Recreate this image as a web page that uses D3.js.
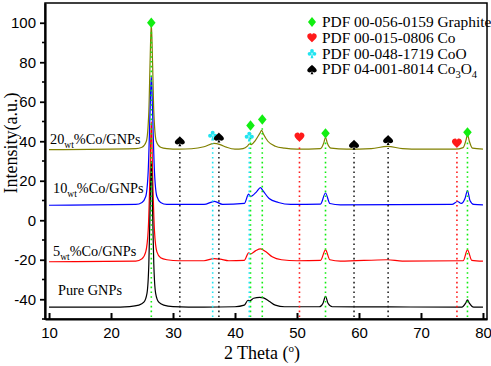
<!DOCTYPE html>
<meta charset="utf-8">
<style>
  body { margin: 0; background: #fff; }
  svg { display: block; font-family: 'Liberation Serif', 'Times New Roman', serif; }
  .tick text { font-size: 15px; }
  .curve { fill: none; stroke-width: 1.2; }
  .ref { stroke-width: 1.6; stroke-dasharray: 1.6 3.2; }
  .lbl { font-size: 14.3px; }
  .leg { font-size: 15.4px; }
</style>
<body>
</body>
<script src="https://cdn.jsdelivr.net/npm/d3@7"></script>
<script>
  const W = 491, H = 366;
  const pl = 45, pr = 487, pt = 3, pb = 319;

  // diffraction patterns, [2theta, intensity]
  const pureGNPs = [[10,-44],[20,-44],[23,-43.7],[24.5,-43],[25.3,-41.5],[25.8,-37],[26.1,-22],[26.3,5],
    [26.5,30],[26.7,5],[26.9,-22],[27.2,-37],[27.7,-41.5],[28.5,-43],[30,-43.7],[35,-44],[40,-43.8],
    [41.5,-43],[42.1,-40.5],[42.4,-40.8],[43,-39.5],[44,-39],[44.6,-39.3],[45.5,-41],[46.5,-43],[48,-43.8],
    [53.6,-43.8],[54.2,-42],[54.6,-38.5],[55,-42],[55.7,-43.8],[65,-43.9],[76.6,-44],[77.2,-42],
    [77.5,-40.3],[77.8,-42],[78.5,-44],[80,-44]];
  const co5 = [[10,-21],[24,-20.7],[25,-19.5],[25.6,-16],[26,-5],[26.3,25],[26.5,50],[26.7,25],[27,-5],
    [27.4,-16],[28,-19],[29,-20],[31,-20.5],[35,-20.5],[36.6,-19.4],[37.6,-19.7],[39,-20.5],[41.5,-20.3],
    [42.2,-16.5],[42.5,-17],[43.3,-15.5],[44.1,-14.5],[45,-16],[46,-18.5],[47.5,-20],[50,-20.5],
    [53.8,-20.3],[54.6,-15],[55.3,-20],[57,-20.7],[64.6,-20],[67,-20.7],[76.8,-20.5],[77.5,-15],
    [78.2,-20.3],[80,-20.7]];
  const co10 = [[10,7.6],[24,8],[25,9],[25.6,12],[26,25],[26.3,55],[26.5,73],[26.7,55],[27,25],[27.4,12],
    [28,9],[29,8],[35,8],[36.7,9.6],[38,8],[41.5,8.5],[42.2,13.2],[42.5,12],[43.5,14.5],[44.1,16.5],
    [44.5,15],[45.5,11],[47,9],[49,8],[53.8,8.2],[54.6,13.8],[55.3,8.5],[57,7.8],[75,8],[75.9,9.5],
    [76.5,8.5],[77.1,11],[77.5,15],[77.9,10],[78.5,8],[80,7.8]];
  const co20 = [[10,35.8],[24,36.3],[25,37],[25.7,40],[26.1,55],[26.3,80],[26.5,100],[26.7,80],[26.9,55],
    [27.3,40],[28,37],[29,36.3],[31,36],[33,36.2],[35,37.2],[36.6,38.9],[37.6,38.3],[38.6,37],[40,36],
    [41.3,36.3],[42,37.5],[42.3,38.6],[42.6,38.3],[43.3,40.5],[44,44],[44.3,45.5],[44.6,43.5],[45.3,40],
    [46.5,37.5],[48,36.5],[50,36],[53.8,36.3],[54.3,39],[54.6,42],[54.9,39],[55.5,36.5],[58,36],
    [62,36.3],[64.6,37.4],[67,36.3],[70,36],[75.5,36],[76.8,36.8],[77.3,41],[77.5,43.5],[77.8,40],
    [78.3,36.5],[80,36]];

  // reference peak positions with marker heights
  const graphitePeaks = [[26.5,100],[42.5,48],[44.4,51],[54.6,44],[77.5,44.5]];
  const coPeaks = [[50.4,42],[75.8,39]];
  const cooPeaks = [[36.4,42.9],[42.3,42.4]];
  const co3o4Peaks = [[31.1,40],[37.4,41.9],[59.2,38.2],[64.7,40.6]];

  const xTicks = [10, 20, 30, 40, 50, 60, 70, 80];
  const yTicks = [-40, -20, 0, 20, 40, 60, 80, 100];
  const yMinor = [-50, -30, -10, 10, 30, 50, 70, 90];

  const x = d3.scaleLinear().domain([9.35, 80.65]).range([pl, pr]);
  const y = d3.scaleLinear().domain([-50, 110]).range([pb, pt]);

  const svg = d3.select('body').append('svg').attr('width', W).attr('height', H);

  // custom marker shapes, drawn in a box of about 2r
  const shapes = {
    diamond: {draw(c, s) { const r = Math.sqrt(s);
      c.moveTo(0, -r * 0.55); c.lineTo(r * 0.45, 0); c.lineTo(0, r * 0.55); c.lineTo(-r * 0.45, 0); c.closePath(); }},
    heart: {draw(c, s) { const r = Math.sqrt(s) * 0.5;
      c.moveTo(0, r * 0.95);
      c.bezierCurveTo(-r * 0.3, r * 0.6, -r, r * 0.1, -r, -r * 0.35);
      c.bezierCurveTo(-r, -r * 0.8, -r * 0.55, -r, -r * 0.3, -r * 0.95);
      c.bezierCurveTo(-r * 0.1, -r * 0.9, 0, -r * 0.75, 0, -r * 0.6);
      c.bezierCurveTo(0, -r * 0.75, r * 0.1, -r * 0.9, r * 0.3, -r * 0.95);
      c.bezierCurveTo(r * 0.55, -r, r, -r * 0.8, r, -r * 0.35);
      c.bezierCurveTo(r, r * 0.1, r * 0.3, r * 0.6, 0, r * 0.95);
      c.closePath(); }},
    club: {draw(c, s) { const r = Math.sqrt(s) * 0.5, q = r * 0.4;
      [[0, -0.55], [-0.52, 0.05], [0.52, 0.05]].forEach(([a, b]) => {
        c.moveTo(a * r + q, b * r); c.arc(a * r, b * r, q, 0, 2 * Math.PI); });
      c.moveTo(0, -r * 0.2); c.lineTo(-r * 0.3, r); c.lineTo(r * 0.3, r); c.closePath(); }},
    spade: {draw(c, s) { const r = Math.sqrt(s) * 0.5;
      c.moveTo(0, -r);
      c.bezierCurveTo(-r * 0.3, -r * 0.65, -r, -r * 0.2, -r, r * 0.2);
      c.bezierCurveTo(-r, r * 0.55, -r * 0.6, r * 0.7, -r * 0.3, r * 0.6);
      c.bezierCurveTo(-r * 0.15, r * 0.55, -r * 0.05, r * 0.45, 0, r * 0.35);
      c.lineTo(-r * 0.3, r); c.lineTo(r * 0.3, r); c.lineTo(0, r * 0.35);
      c.bezierCurveTo(r * 0.05, r * 0.45, r * 0.15, r * 0.55, r * 0.3, r * 0.6);
      c.bezierCurveTo(r * 0.6, r * 0.7, r, r * 0.55, r, r * 0.2);
      c.bezierCurveTo(r, -r * 0.2, r * 0.3, -r * 0.65, 0, -r);
      c.closePath(); }}
  };

  const phases = [
    {name: 'PDF 00-056-0159 Graphite', peaks: graphitePeaks, color: '#11ee11', shape: 'diamond'},
    {name: 'PDF 00-015-0806 Co', peaks: coPeaks, color: '#ff1a1a', shape: 'heart'},
    {name: 'PDF 00-048-1719 CoO', peaks: cooPeaks, color: '#22e4f0', shape: 'club'},
    {name: 'PDF 04-001-8014 Co', sub: ['3', 'O', '4'], peaks: co3o4Peaks, color: '#000', shape: 'spade'}
  ];

  const line = d3.line().x(d => x(d[0])).y(d => y(d[1])).curve(d3.curveMonotoneX);
  const curves = [
    {data: co20, color: '#808000'},
    {data: co10, color: '#0000ff'},
    {data: co5, color: '#ff0000'},
    {data: pureGNPs, color: '#000000'}
  ];
  svg.append('g').selectAll('path').data(curves).join('path')
    .attr('class', 'curve').attr('stroke', d => d.color).attr('d', d => line(d.data));

  // dotted reference lines and markers
  const refs = svg.append('g');
  phases.forEach(p => {
    const c = p.color === '#000' ? '#222' : p.color;
    refs.append('g').selectAll('line').data(p.peaks).join('line')
      .attr('class', 'ref').attr('stroke', c)
      .attr('x1', d => x(d[0])).attr('x2', d => x(d[0]))
      .attr('y1', y(-50) - 2).attr('y2', d => y(d[1] - 4));
    refs.append('g').selectAll('path').data(p.peaks).join('path')
      .attr('fill', p.color)
      .attr('transform', d => `translate(${x(d[0])},${y(d[1])})`)
      .attr('d', d3.symbol().type(shapes[p.shape]).size(p.shape === 'diamond' ? 90 : 100));
  });

  // frame
  svg.append('rect').attr('x', pl).attr('y', pt)
    .attr('width', pr - pl).attr('height', pb - pt)
    .attr('fill', 'none').attr('stroke', '#000').attr('stroke-width', 1.5);

  // axes
  const xAxis = svg.append('g').attr('transform', `translate(0,${pb})`)
    .call(d3.axisBottom(x).tickValues(xTicks).tickSize(-6).tickPadding(14).tickSizeOuter(0));
  xAxis.select('.domain').attr('stroke-width', 2.2);
  xAxis.selectAll('.tick line').attr('stroke-width', 2);
  xAxis.selectAll('.tick text').attr('dy', '0.71em').attr('y', 8);

  const yAxis = svg.append('g').attr('transform', `translate(${pl},0)`)
    .call(d3.axisLeft(y).tickValues(yTicks).tickSize(5).tickPadding(4).tickSizeOuter(0));
  yAxis.select('.domain').attr('stroke-width', 2.2);
  yAxis.selectAll('.tick line').attr('stroke-width', 1.8);
  yAxis.selectAll('.tick text').text(d => d < 0 ? '-' + Math.abs(d) : d);
  svg.append('g').selectAll('line').data(yMinor).join('line')
    .attr('x1', pl - 3).attr('x2', pl).attr('y1', d => y(d)).attr('y2', d => y(d))
    .attr('stroke', '#000').attr('stroke-width', 1.6);

  // axis titles
  const xt = svg.append('text').attr('x', 262).attr('y', 359).attr('text-anchor', 'middle')
    .style('font-size', '18px').text('2 Theta (');
  xt.append('tspan').attr('dy', -7).style('font-size', '11px').text('o');
  xt.append('tspan').attr('dy', 7).text(')');

  svg.append('text').attr('transform', 'translate(17,143) rotate(-90)').attr('text-anchor', 'middle')
    .style('font-size', '18px').text('Intensity(a.u.)');

  // series labels
  const seriesLabels = [
    {pre: '20', x: 50, y: 144},
    {pre: '10', x: 53, y: 193},
    {pre: '5', x: 53, y: 256}
  ];
  seriesLabels.forEach(l => {
    const t = svg.append('text').attr('class', 'lbl').attr('x', l.x).attr('y', l.y).text(l.pre);
    t.append('tspan').attr('dy', 4).style('font-size', '9.5px').text('wt');
    t.append('tspan').attr('dy', -4).text('%Co/GNPs');
  });
  svg.append('text').attr('class', 'lbl').attr('x', 58).attr('y', 295).text('Pure GNPs');

  // legend
  const leg = svg.append('g').selectAll('g').data(phases).join('g')
    .attr('transform', (d, i) => `translate(312,${22 + i * 15.8})`);
  leg.append('path').attr('fill', d => d.color)
    .attr('d', d => d3.symbol().type(shapes[d.shape]).size(d.shape === 'diamond' ? 80 : 90)());
  leg.each(function(d) {
    const t = d3.select(this).append('text').attr('class', 'leg').attr('x', 10).attr('y', 5).text(d.name);
    if (d.sub) {
      t.append('tspan').attr('dy', 4).style('font-size', '10.5px').text(d.sub[0]);
      t.append('tspan').attr('dy', -4).text(d.sub[1]);
      t.append('tspan').attr('dy', 4).style('font-size', '10.5px').text(d.sub[2]);
    }
  });
</script>
